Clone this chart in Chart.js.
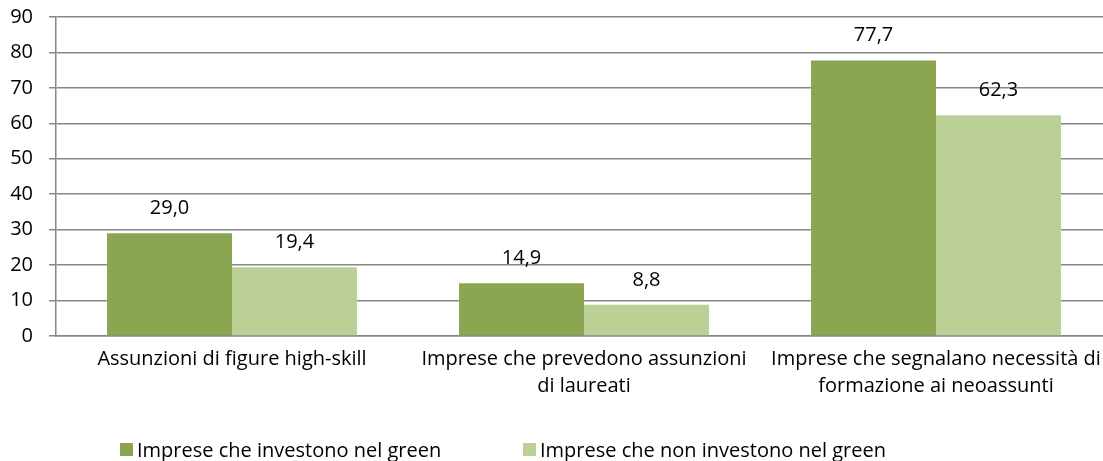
<!DOCTYPE html>
<html>
<head>
<meta charset="utf-8">
<script src="https://cdn.jsdelivr.net/npm/chart.js@4"></script>
<style>
  html, body { margin: 0; padding: 0; background: #fff; overflow: hidden; }
  #wrap { width: 1120px; height: 461px; position: relative; }
</style>
</head>
<body>
<div id="wrap"><canvas id="chart"></canvas></div>
<script>
// dati
const categorie = [
    ['Assunzioni di figure high-skill'],
    ['Imprese che prevedono assunzioni', 'di laureati'],
    ['Imprese che segnalano necessità di', 'formazione ai neoassunti']
];
const serieNomi = ['Imprese che investono nel green', 'Imprese che non investono nel green'];
const investonoGreen = [29.0, 14.9, 77.7];
const nonInvestonoGreen = [19.4, 8.8, 62.3];
const yTicks = [0, 10, 20, 30, 40, 50, 60, 70, 80, 90];

const FONT = '"Open Sans", sans-serif';
const FONT_SIZE = 20;

// etichette sopra le barre (valori con virgola decimale)
const valueLabels = {
    id: 'valueLabels',
    afterDatasetsDraw(chart) {
        const ctx = chart.ctx;
        ctx.save();
        ctx.font = FONT_SIZE + 'px ' + FONT;
        ctx.fillStyle = '#000';
        ctx.textAlign = 'center';
        ctx.textBaseline = 'middle';
        chart.data.datasets.forEach((ds, i) => {
            chart.getDatasetMeta(i).data.forEach((bar, j) => {
                ctx.fillText(ds.data[j].toFixed(1).replace('.', ','), bar.x, bar.y - 25);
            });
        });
        ctx.restore();
    }
};

// legenda in basso, costruita dai dataset
const bottomLegend = {
    id: 'bottomLegend',
    afterDraw(chart) {
        const ctx = chart.ctx;
        const starts = [120, 523];
        ctx.save();
        ctx.font = FONT_SIZE + 'px ' + FONT;
        ctx.textBaseline = 'alphabetic';
        ctx.textAlign = 'left';
        chart.data.datasets.forEach((ds, i) => {
            const x = starts[i];
            ctx.fillStyle = ds.backgroundColor;
            ctx.fillRect(x, 443, 13, 13);
            ctx.fillStyle = '#000';
            ctx.fillText(ds.label, x + 17, 457);
        });
        ctx.restore();
    }
};

new Chart(document.getElementById('chart'), {
    type: 'bar',
    data: {
        labels: categorie,
        datasets: [
            { label: serieNomi[0], data: investonoGreen, backgroundColor: '#8aa650' },
            { label: serieNomi[1], data: nonInvestonoGreen, backgroundColor: '#bad096' }
        ]
    },
    options: {
        responsive: true,
        maintainAspectRatio: false,
        animation: false,
        layout: { padding: { top: 17, left: 0, right: 8, bottom: 0 } },
        datasets: { bar: { categoryPercentage: 0.71, barPercentage: 1.0 } },
        plugins: {
            legend: { display: false },
            tooltip: { enabled: false }
        },
        scales: {
            x: {
                grid: { display: false, drawTicks: false },
                border: { display: true, color: '#878787', width: 1.5 },
                ticks: {
                    color: '#000',
                    font: { family: FONT, size: FONT_SIZE, lineHeight: 1.35 },
                    padding: 10,
                    maxRotation: 0,
                    autoSkip: false
                },
                afterFit(scale) { scale.height = 125; }
            },
            y: {
                min: 0,
                max: 90,
                afterBuildTicks(scale) { scale.ticks = yTicks.map(v => ({ value: v })); },
                grid: { color: '#878787', lineWidth: 1.5, tickLength: 7 },
                border: { display: true, color: '#878787', width: 1.5 },
                ticks: {
                    color: '#000',
                    font: { family: FONT, size: FONT_SIZE },
                    padding: 16
                },
                afterFit(scale) {
                    scale.width = 56;
                    scale.paddingTop = 0;
                    scale.paddingBottom = 0;
                }
            }
        }
    },
    plugins: [valueLabels, bottomLegend]
});
</script>
</body>
</html>
